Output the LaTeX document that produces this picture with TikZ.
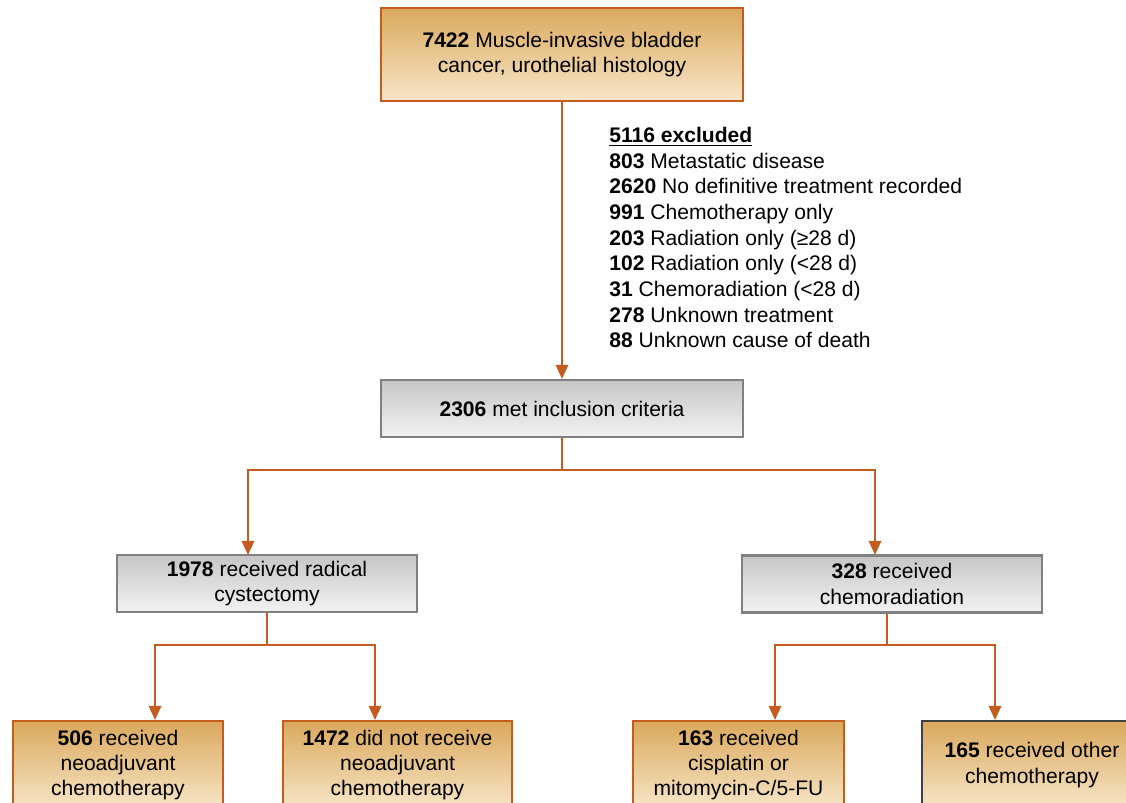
\documentclass[tikz,border=0pt]{standalone}
\usepackage{fontspec}
\setmainfont{Liberation Sans}
\usetikzlibrary{arrows.meta, positioning}

\definecolor{flowline}{RGB}{196,92,32}
\definecolor{tantop}{RGB}{218,168,92}
\definecolor{tanbot}{RGB}{247,230,200}
\definecolor{greytop}{RGB}{198,198,198}
\definecolor{greybot}{RGB}{242,242,242}

\begin{document}
\begin{tikzpicture}[x=0.02cm, y=-0.02cm, >={Triangle[length=8pt,width=7pt]},
    font=\fontsize{12}{14.5}\selectfont]
  \tikzset{
    tanbox/.style={
      draw=flowline,
      line width=1.2pt,
      top color=tantop,
      bottom color=tanbot,
      align=center,
      inner sep=2pt},
    greybox/.style={
      draw=black!50,
      line width=1.2pt,
      top color=greytop,
      bottom color=greybot,
      align=center,
      inner sep=2pt},
    flow/.style={
      draw=flowline,
      line width=1.2pt}}

  \clip (0,0) rectangle (1126,803);
  \useasboundingbox (0,0) rectangle (1126,803);

  \node[tanbox, minimum width=7.24cm, minimum height=1.86cm] (total) at (562,54.5)
    {\textbf{7422} Muscle-invasive bladder\\cancer, urothelial histology};

  \node[anchor=north west, align=left, inner sep=0pt,
        font=\fontsize{12}{14.6}\selectfont] (excl) at (609,127)
    {\underline{\textbf{5116 excluded}}\\
     \textbf{803} Metastatic disease\\
     \textbf{2620} No definitive treatment recorded\\
     \textbf{991} Chemotherapy only\\
     \textbf{203} Radiation only (≥28 d)\\
     \textbf{102} Radiation only (<28 d)\\
     \textbf{31} Chemoradiation (<28 d)\\
     \textbf{278} Unknown treatment\\
     \textbf{88} Unknown cause of death};

  \node[greybox, minimum width=7.24cm, minimum height=1.14cm] (incl) at (562,408.5)
    {\textbf{2306} met inclusion criteria};

  \node[greybox, minimum width=6cm, minimum height=1.14cm] (cyst) at (267,583.5)
    {\textbf{1978} received radical\\cystectomy};
  \node[greybox, minimum width=6cm, minimum height=1.14cm] (crt) at (892,584)
    {\textbf{328} received\\chemoradiation};

  \node[tanbox, anchor=north, minimum width=4.2cm, minimum height=1.76cm] (neo) at (118,720)
    {\textbf{506} received\\neoadjuvant\\chemotherapy};
  \node[tanbox, anchor=north, minimum width=4.58cm, minimum height=1.76cm] (noneo) at (397.5,720)
    {\textbf{1472} did not receive\\neoadjuvant\\chemotherapy};
  \node[tanbox, anchor=north, minimum width=4.22cm, minimum height=1.76cm] (cis) at (738.5,720)
    {\textbf{163} received\\cisplatin or\\mitomycin-C/5-FU};
  \node[tanbox, draw=black!75, anchor=north, minimum width=4.4cm, minimum height=1.76cm] (other) at (1032,720)
    {\textbf{165} received other\\chemotherapy};

  % split points and arrow ends
  \coordinate (j1) at (562,470);
  \coordinate (a1) at (248,555);
  \coordinate (a2) at (875,555);
  \coordinate (j2) at (267,645);
  \coordinate (j3) at (887,645);
  \coordinate (b1) at (155,720);
  \coordinate (b2) at (375,720);
  \coordinate (b3) at (775,720);
  \coordinate (b4) at (995,720);

  \draw[flow, ->] (total) -- (incl);

  \draw[flow, ->] (incl.south) -- (j1) -| (a1);
  \draw[flow, ->] (j1) -| (a2);

  \draw[flow, ->] (cyst.south) -- (j2) -| (b1);
  \draw[flow, ->] (j2) -| (b2);

  \draw[flow, ->] (crt.south -| j3) -- (j3) -| (b3);
  \draw[flow, ->] (j3) -| (b4);

\end{tikzpicture}
\end{document}
